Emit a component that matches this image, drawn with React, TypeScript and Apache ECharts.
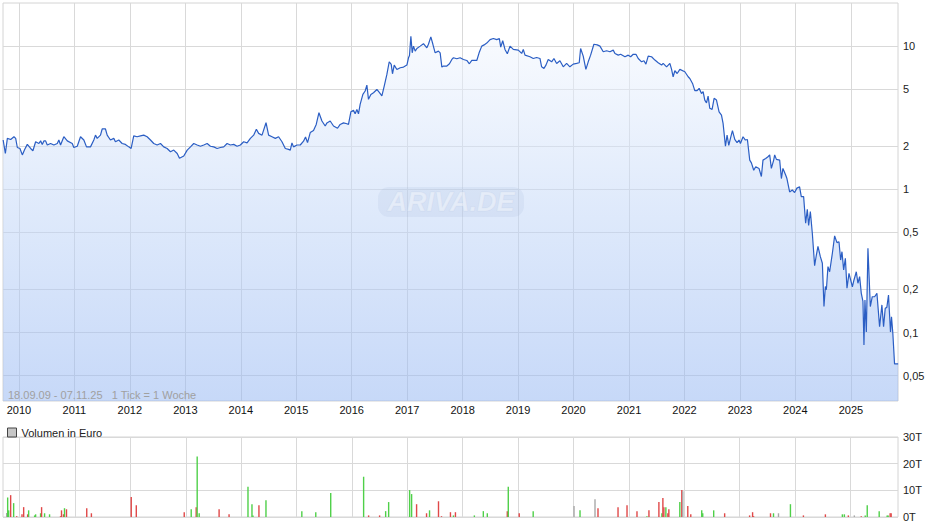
import React, { useEffect, useRef } from 'react';
import * as echarts from 'echarts';

// Price (Euro) per week: [decimal year, price]
const pricePoints: [number, number][] = [
  [2009.715,2.21],[2009.755,1.78],[2009.791,2.27],[2009.851,2.23],[2009.910,2.33],[2009.941,2.27],[2009.971,1.96],[2010.018,1.93],[2010.061,1.74],[2010.103,1.90],[2010.151,2.06],[2010.211,1.93],[2010.252,1.86],[2010.301,2.15],[2010.360,2.09],[2010.391,2.18],[2010.421,2.06],[2010.450,2.18],[2010.481,2.18],[2010.511,2.04],[2010.571,2.09],[2010.630,2.04],[2010.692,2.09],[2010.720,2.21],[2010.751,2.04],[2010.810,2.33],[2010.872,2.18],[2010.962,2.09],[2010.990,1.96],
  [2011.052,2.00],[2011.111,2.33],[2011.171,2.21],[2011.219,1.98],[2011.291,1.98],[2011.351,2.21],[2011.381,2.39],[2011.412,2.27],[2011.471,2.39],[2011.502,2.64],[2011.561,2.64],[2011.592,2.39],[2011.651,2.21],[2011.711,2.27],[2011.741,2.15],[2011.801,2.21],[2011.862,2.09],[2011.921,2.06],[2011.981,1.98],
  [2012.024,1.93],[2012.071,2.36],[2012.132,2.33],[2012.192,2.36],[2012.251,2.39],[2012.312,2.33],[2012.372,2.21],[2012.431,2.09],[2012.492,2.04],[2012.552,2.09],[2012.611,1.98],[2012.672,1.93],[2012.732,1.83],[2012.791,1.88],[2012.853,1.78],[2012.894,1.65],[2012.971,1.71],
  [2013.033,1.88],[2013.092,1.98],[2013.151,2.09],[2013.213,2.04],[2013.272,2.00],[2013.332,2.04],[2013.393,2.09],[2013.452,2.00],[2013.512,1.98],[2013.573,1.93],[2013.632,1.96],[2013.692,1.98],[2013.753,2.09],[2013.812,2.04],[2013.872,2.06],[2013.933,2.00],[2013.992,2.04],
  [2014.052,2.15],[2014.113,2.11],[2014.173,2.27],[2014.232,2.39],[2014.281,2.63],[2014.322,2.46],[2014.383,2.39],[2014.455,2.92],[2014.502,2.39],[2014.563,2.33],[2014.623,2.27],[2014.682,2.33],[2014.743,2.15],[2014.803,1.93],[2014.862,1.90],[2014.893,1.88],[2014.923,2.11],[2014.952,1.98],
  [2015.014,2.04],[2015.073,2.04],[2015.132,2.17],[2015.168,2.32],[2015.204,2.12],[2015.253,2.49],[2015.312,2.58],[2015.361,2.84],[2015.410,3.43],[2015.464,3.00],[2015.523,2.77],[2015.554,2.91],[2015.613,3.00],[2015.673,2.77],[2015.745,2.67],[2015.793,2.84],[2015.853,2.91],[2015.914,2.87],[2015.943,2.84],[2015.986,3.48],
  [2016.033,3.56],[2016.063,3.37],[2016.094,3.61],[2016.123,3.37],[2016.153,3.92],[2016.202,4.60],[2016.243,4.86],[2016.274,5.34],[2016.303,4.25],[2016.346,4.60],[2016.393,4.73],[2016.454,4.98],[2016.501,4.73],[2016.544,4.49],[2016.586,5.26],[2016.634,6.34],[2016.676,7.78],[2016.712,7.45],[2016.735,6.41],[2016.766,7.37],[2016.814,6.87],[2016.874,7.06],[2016.933,7.14],[2016.994,7.37],
  [2017.023,8.29],[2017.041,8.61],[2017.066,11.7],[2017.090,8.98],[2017.113,10.0],[2017.144,9.23],[2017.174,9.63],[2017.234,10.0],[2017.293,10.4],[2017.354,9.73],[2017.383,10.3],[2017.426,11.6],[2017.463,10.3],[2017.504,8.98],[2017.563,9.23],[2017.594,8.98],[2017.625,7.14],[2017.654,7.26],[2017.715,7.26],[2017.762,7.53],[2017.805,8.07],[2017.834,8.29],[2017.895,8.16],[2017.954,8.29],
  [2018.014,8.07],[2018.075,7.94],[2018.122,7.53],[2018.165,7.94],[2018.255,7.94],[2018.297,8.98],[2018.345,10.0],[2018.387,10.2],[2018.435,10.5],[2018.495,11.1],[2018.554,11.3],[2018.615,11.1],[2018.662,11.3],[2018.687,9.84],[2018.723,10.9],[2018.764,9.48],[2018.806,8.84],[2018.855,10.0],[2018.914,9.48],
  [2019.004,9.38],[2019.065,8.89],[2019.094,9.48],[2019.125,8.65],[2019.215,8.43],[2019.274,8.20],[2019.335,8.33],[2019.395,8.20],[2019.425,7.17],[2019.467,6.99],[2019.503,7.37],[2019.544,8.07],[2019.606,7.77],[2019.647,8.20],[2019.696,7.57],[2019.755,7.90],[2019.815,7.17],[2019.876,7.57],[2019.935,7.17],[2019.995,7.49],
  [2020.056,7.57],[2020.103,7.65],[2020.128,9.63],[2020.175,8.52],[2020.223,6.88],[2020.265,7.77],[2020.308,8.65],[2020.367,10.3],[2020.427,10.2],[2020.476,10.0],[2020.535,9.13],[2020.596,9.28],[2020.656,9.13],[2020.715,9.38],[2020.746,8.89],[2020.805,8.65],[2020.848,8.77],[2020.926,8.43],[2020.985,8.65],
  [2021.028,8.43],[2021.075,8.77],[2021.124,8.77],[2021.165,8.20],[2021.226,7.77],[2021.268,7.90],[2021.304,7.49],[2021.345,8.52],[2021.406,8.43],[2021.466,7.99],[2021.525,7.65],[2021.587,7.37],[2021.615,7.57],[2021.677,7.17],[2021.736,7.57],[2021.767,6.88],[2021.795,6.11],[2021.826,6.73],[2021.868,6.44],[2021.916,6.88],
  [2022.006,6.62],[2022.066,6.11],[2022.096,5.94],[2022.145,5.49],[2022.186,4.89],[2022.228,4.89],[2022.264,5.07],[2022.307,4.67],[2022.336,4.81],[2022.366,4.20],[2022.397,4.02],[2022.426,4.48],[2022.456,3.68],[2022.498,3.62],[2022.534,4.32],[2022.577,4.20],[2022.624,3.48],[2022.667,3.30],[2022.696,2.89],[2022.739,2.00],[2022.768,2.39],[2022.799,2.03],[2022.829,2.27],[2022.865,2.57],[2022.907,2.23],[2022.948,2.12],[2022.984,2.21],
  [2023.009,2.09],[2023.056,2.33],[2023.099,2.21],[2023.135,2.23],[2023.177,1.60],[2023.207,1.53],[2023.249,1.36],[2023.285,1.44],[2023.344,1.40],[2023.387,1.23],[2023.416,1.60],[2023.465,1.64],[2023.506,1.69],[2023.537,1.74],[2023.567,1.40],[2023.609,1.60],[2023.627,1.74],[2023.658,1.62],[2023.717,1.60],[2023.748,1.19],[2023.776,1.40],[2023.825,1.26],[2023.848,1.19],[2023.897,0.96],[2023.945,0.99],[2023.987,0.95],
  [2024.028,1.02],[2024.076,1.04],[2024.107,0.89],[2024.149,0.89],[2024.185,0.58],[2024.215,0.725],[2024.239,0.56],[2024.270,0.70],[2024.306,0.49],[2024.347,0.293],[2024.378,0.348],[2024.407,0.40],[2024.450,0.339],[2024.486,0.305],[2024.515,0.152],[2024.540,0.21],[2024.558,0.199],[2024.587,0.289],[2024.617,0.266],[2024.666,0.358],[2024.707,0.473],[2024.749,0.425],[2024.785,0.431],[2024.815,0.321],[2024.839,0.367],[2024.869,0.274],[2024.900,0.330],[2024.929,0.204],[2024.965,0.259],[2024.995,0.233],
  [2025.026,0.209],[2025.055,0.233],[2025.097,0.266],[2025.126,0.221],[2025.157,0.246],[2025.187,0.188],[2025.217,0.165],[2025.235,0.082],[2025.253,0.169],[2025.278,0.101],[2025.307,0.388],[2025.350,0.152],[2025.385,0.178],[2025.427,0.178],[2025.469,0.188],[2025.517,0.110],[2025.559,0.156],[2025.589,0.110],[2025.619,0.148],[2025.648,0.150],[2025.678,0.183],[2025.714,0.101],[2025.732,0.129],[2025.756,0.099],[2025.787,0.0605],[2025.852,0.0605],
];

// Volume in Euro: [decimal year, volume, direction u=up d=down n=unchanged]
const volumePoints: [number, number, string][] = [
  [2009.766,1500,'n'],[2009.784,7300,'u'],[2009.802,2500,'u'],[2009.838,8200,'d'],[2009.892,5200,'u'],[2009.947,300,'d'],
  [2010.043,1000,'d'],[2010.073,3700,'d'],[2010.145,1000,'d'],[2010.163,2500,'u'],[2010.271,600,'u'],[2010.289,1000,'u'],[2010.379,1400,'u'],[2010.397,3700,'d'],[2010.451,1400,'u'],[2010.541,1000,'u'],[2010.739,300,'d'],[2010.757,2500,'d'],[2010.793,1000,'d'],[2010.811,3300,'u'],[2010.847,2900,'d'],
  [2011.213,3300,'d'],[2011.297,1400,'d'],[2012.017,7500,'d'],[2012.108,4400,'d'],[2012.972,1800,'d'],
  [2013.098,2900,'u'],[2013.188,3700,'d'],[2013.206,22700,'u'],[2013.242,1400,'u'],[2013.602,2900,'d'],[2013.782,1000,'d'],
  [2014.124,11300,'u'],[2014.196,4800,'u'],[2014.214,600,'u'],[2014.322,4400,'d'],[2014.449,6300,'u'],
  [2015.097,2200,'u'],[2015.349,1800,'u'],[2015.619,9000,'u'],
  [2016.213,15100,'u'],[2016.303,600,'d'],[2016.501,600,'d'],[2016.610,2200,'u'],[2016.664,5600,'u'],
  [2017.042,10100,'u'],[2017.078,8600,'u'],[2017.168,4800,'d'],[2017.348,1400,'d'],[2017.402,2500,'u'],[2017.564,5900,'d'],[2017.618,300,'d'],[2017.780,1800,'d'],[2017.834,600,'u'],[2017.870,1800,'d'],
  [2018.212,600,'u'],[2018.374,2200,'u'],[2018.446,1400,'u'],[2018.807,2200,'d'],[2018.825,11300,'u'],
  [2019.023,1400,'d'],[2019.275,2200,'u'],
  [2020.013,4100,'n'],[2020.121,2500,'u'],[2020.391,6700,'n'],[2020.445,3300,'d'],[2020.806,3700,'d'],[2020.968,4400,'d'],
  [2021.148,2200,'d'],[2021.328,300,'u'],[2021.364,2500,'d'],[2021.544,5600,'d'],[2021.598,1400,'u'],[2021.616,7100,'d'],[2021.634,3700,'d'],[2021.670,3700,'u'],[2021.706,1400,'d'],[2021.724,2900,'d'],[2021.922,5600,'u'],[2021.958,10100,'d'],[2021.976,9700,'n'],
  [2022.066,4100,'d'],[2022.120,1000,'d'],[2022.318,2500,'u'],[2022.336,1400,'u'],[2022.534,2500,'u'],[2022.732,1400,'d'],
  [2023.183,600,'d'],[2023.237,1800,'d'],[2023.255,300,'d'],[2023.561,1400,'d'],[2023.615,1400,'u'],[2023.705,1400,'n'],[2023.921,4800,'u'],
  [2024.155,600,'d'],[2024.551,1000,'d'],[2024.857,1000,'u'],[2024.893,1000,'u'],[2024.965,600,'d'],
  [2025.073,600,'n'],[2025.198,300,'d'],[2025.270,600,'u'],[2025.306,4400,'u'],[2025.522,2200,'u'],[2025.666,600,'u'],[2025.684,600,'u'],[2025.720,1400,'d'],[2025.738,1400,'d'],
];

const yearTicks = [2010, 2011, 2012, 2013, 2014, 2015, 2016, 2017, 2018, 2019, 2020, 2021, 2022, 2023, 2024, 2025];
const priceTicks = [10, 5, 2, 1, 0.5, 0.2, 0.1, 0.05];
const volumeTickStep = 10000;
const volumeMax = 30000;
const rangeText = '18.09.09 - 07.11.25   1 Tick = 1 Woche';
const volumeLegend = 'Volumen in Euro';

const START = Date.UTC(2009, 8, 18);
const END = Date.UTC(2025, 10, 7);

function yearToTime(y: number): number {
  const Y = Math.floor(y);
  const a = Date.UTC(Y, 0, 1);
  const b = Date.UTC(Y + 1, 0, 1);
  return a + (y - Y) * (b - a);
}

const FONT = '"Liberation Sans", Arial, Helvetica, sans-serif';
const GRID_LINE = '#d9d9d9';
const DIR_COLORS: Record<string, string> = { u: '#4fd049', d: '#e04848', n: '#a8a8a8' };

export default function App() {
  const ref = useRef<HTMLDivElement>(null);
  useEffect(() => {
    if (!ref.current) return;
    const chart = echarts.init(ref.current, undefined, { renderer: 'svg' });

    const priceData = pricePoints.map(([y, v]) => [yearToTime(y), v]);
    const volData = volumePoints.map(([y, v, d]) => ({
      value: [yearToTime(y), v],
      itemStyle: { color: DIR_COLORS[d] },
    }));

    const yearLines = yearTicks.map((y) => ({
      name: String(y),
      xAxis: Date.UTC(y, 0, 1),
    }));

    const hiddenAxis = {
      axisLine: { show: false },
      axisTick: { show: false },
      axisLabel: { show: false },
      splitLine: { show: false },
    };

    const option: any = {
      animation: false,
      textStyle: { fontFamily: FONT },
      grid: [
        { left: 3, top: 3, width: 895, height: 398, show: true, borderColor: '#d4d4d4', borderWidth: 1, backgroundColor: 'transparent' },
        { left: 3, top: 437, width: 895, height: 80, show: true, borderColor: '#d4d4d4', borderWidth: 1, backgroundColor: 'transparent' },
      ],
      xAxis: [
        { type: 'time', gridIndex: 0, min: START, max: END, ...hiddenAxis },
        { type: 'time', gridIndex: 1, min: START, max: END, ...hiddenAxis },
      ],
      yAxis: [
        { type: 'log', gridIndex: 0, min: 0.0333, max: 20, position: 'right', ...hiddenAxis },
        {
          type: 'value', gridIndex: 1, min: 0, max: volumeMax, interval: volumeTickStep, position: 'right',
          axisLine: { show: false }, axisTick: { show: false },
          axisLabel: { color: '#222', fontSize: 11, margin: 5, formatter: (v: number) => v / 1000 + 'T' },
          splitLine: { lineStyle: { color: GRID_LINE, width: 1 } },
        },
      ],
      legend: {
        show: true,
        left: 2,
        top: 422,
        selectedMode: false,
        itemWidth: 9,
        itemHeight: 9,
        itemGap: 10,
        textStyle: { color: '#222', fontSize: 11, fontFamily: FONT },
        data: [
          { name: volumeLegend, icon: 'rect', itemStyle: { color: '#c6c6c6', borderColor: '#444', borderWidth: 1 } },
        ],
      },
      graphic: [
        {
          type: 'rect', z: 10, silent: true,
          shape: { x: 378, y: 187, width: 146, height: 30, r: 11 },
          style: { fill: 'rgba(160,180,215,0.16)' },
        },
        {
          type: 'text', z: 11, silent: true, x: 451, y: 202,
          style: {
            text: 'ARIVA.DE', align: 'center', verticalAlign: 'middle',
            font: 'italic bold 27px ' + FONT,
            fill: 'rgba(255,255,255,0.4)', stroke: 'rgba(190,205,232,0.35)', lineWidth: 1,
          },
        },
        {
          type: 'text', z: 10, silent: true, left: 8, top: 389,
          style: { text: rangeText, font: '11px ' + FONT, fill: '#a0a0a0' },
        },
      ],
      series: [
        {
          type: 'line',
          name: 'Kurs',
          xAxisIndex: 0,
          yAxisIndex: 0,
          data: priceData,
          symbol: 'none',
          showSymbol: false,
          z: 2,
          lineStyle: { color: '#2b5ec4', width: 1.2 },
          areaStyle: {
            origin: 'start',
            color: new echarts.graphic.LinearGradient(0, 3, 0, 401, [
              { offset: 0, color: 'rgba(252,253,255,0.75)' },
              { offset: 0.5, color: 'rgba(196,216,248,0.75)' },
              { offset: 1, color: 'rgba(148,182,242,0.75)' },
            ], true),
          },
          markLine: {
            silent: true,
            z: 1,
            symbol: ['none', 'none'],
            animation: false,
            lineStyle: { color: GRID_LINE, width: 1, type: 'solid' },
            emphasis: { disabled: true },
            label: { show: true, position: 'end', distance: 5, color: '#222', fontSize: 11, fontFamily: FONT, formatter: '{b}' },
            data: [
              ...priceTicks.map((v) => ({ name: String(v).replace('.', ','), yAxis: v })),
              ...yearLines.map((l) => ({
                ...l,
                label: { show: true, position: 'start', distance: 3, color: '#111', fontSize: 11, fontFamily: FONT, formatter: '{b}' },
              })),
            ],
          },
        },
        {
          type: 'bar',
          name: volumeLegend,
          xAxisIndex: 1,
          yAxisIndex: 1,
          data: volData,
          barWidth: 1.4,
          z: 2,
          itemStyle: { color: '#c6c6c6' },
          markLine: {
            silent: true,
            z: 1,
            symbol: ['none', 'none'],
            animation: false,
            lineStyle: { color: GRID_LINE, width: 1, type: 'solid' },
            emphasis: { disabled: true },
            label: { show: false },
            data: yearLines,
          },
        },
      ],
    };

    chart.setOption(option);
    return () => chart.dispose();
  }, []);

  return (
    <div
      ref={ref}
      style={{ position: 'fixed', left: 0, top: 0, width: 940, height: 526, background: '#fff' }}
    />
  );
}
